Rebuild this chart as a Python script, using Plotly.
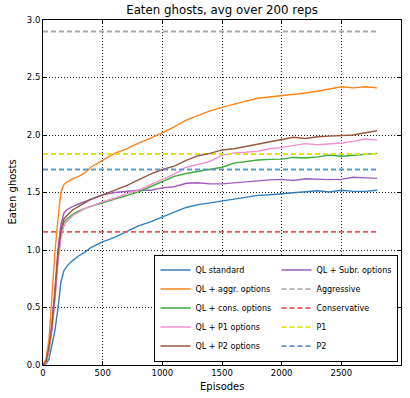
import plotly.graph_objects as go

episodes = [0, 25, 50, 75, 100, 125, 150, 175, 200, 250, 300, 350, 400, 500, 600, 700, 800, 900,
            1000, 1100, 1200, 1300, 1400, 1500, 1600, 1700, 1800, 1900, 2000, 2100, 2200, 2300,
            2400, 2500, 2600, 2700, 2800]

ql_standard = [0, 0.01, 0.05, 0.17, 0.30, 0.49, 0.72, 0.82, 0.86, 0.91, 0.95, 0.98, 1.02, 1.07, 1.11,
               1.16, 1.21, 1.245, 1.29, 1.33, 1.37, 1.395, 1.41, 1.426, 1.445, 1.46, 1.475, 1.48,
               1.49, 1.497, 1.505, 1.515, 1.505, 1.52, 1.51, 1.51, 1.52]
ql_aggr = [0, 0.05, 0.22, 0.65, 0.98, 1.27, 1.50, 1.57, 1.59, 1.62, 1.64, 1.67, 1.72, 1.78, 1.84,
           1.88, 1.93, 1.97, 2.02, 2.07, 2.13, 2.17, 2.21, 2.24, 2.27, 2.295, 2.32, 2.33, 2.34,
           2.35, 2.365, 2.38, 2.40, 2.42, 2.41, 2.42, 2.41]
ql_cons = [0, 0.02, 0.13, 0.32, 0.60, 0.92, 1.13, 1.24, 1.27, 1.31, 1.34, 1.36, 1.38, 1.41, 1.44,
           1.47, 1.505, 1.55, 1.595, 1.64, 1.665, 1.685, 1.70, 1.72, 1.755, 1.77, 1.783, 1.788,
           1.79, 1.805, 1.80, 1.81, 1.825, 1.815, 1.825, 1.83, 1.84]
ql_p1 = [0, 0.02, 0.12, 0.30, 0.56, 0.88, 1.10, 1.21, 1.25, 1.30, 1.33, 1.36, 1.38, 1.42, 1.45,
         1.49, 1.52, 1.57, 1.615, 1.66, 1.72, 1.745, 1.77, 1.825, 1.845, 1.85, 1.86, 1.88, 1.89,
         1.91, 1.925, 1.915, 1.92, 1.93, 1.945, 1.965, 1.955]
ql_p2 = [0, 0.03, 0.15, 0.34, 0.62, 0.95, 1.17, 1.27, 1.30, 1.35, 1.38, 1.41, 1.44, 1.48, 1.52,
         1.56, 1.61, 1.66, 1.70, 1.73, 1.78, 1.82, 1.84, 1.87, 1.88, 1.90, 1.925, 1.945, 1.96,
         1.98, 1.97, 1.985, 1.99, 1.995, 2.0, 2.02, 2.037]
ql_subr = [0, 0.03, 0.16, 0.37, 0.66, 1.0, 1.22, 1.32, 1.35, 1.38, 1.40, 1.42, 1.44, 1.48, 1.50,
           1.51, 1.52, 1.52, 1.54, 1.55, 1.58, 1.585, 1.575, 1.575, 1.585, 1.59, 1.60, 1.61,
           1.614, 1.605, 1.62, 1.615, 1.612, 1.614, 1.632, 1.627, 1.623]

ref_x = [0, 2800]
aggressive = 2.9
conservative = 1.157
p1 = 1.835
p2 = 1.70

x_ticks = [0, 500, 1000, 1500, 2000, 2500, 3000]
y_ticks = [0.0, 0.5, 1.0, 1.5, 2.0, 2.5, 3.0]

curves = [
    ("QL standard", ql_standard, "#2f7fc1"),
    ("QL + aggr. options", ql_aggr, "#ff8317"),
    ("QL + cons. options", ql_cons, "#3cab3c"),
    ("QL + P1 options", ql_p1, "#f28fd0"),
    ("QL + P2 options", ql_p2, "#98573f"),
    ("QL + Subr. options", ql_subr, "#a05cbf"),
]
refs = [
    ("Aggressive", aggressive, "#ababab"),
    ("Conservative", conservative, "#e8585a"),
    ("P1", p1, "#e2e21c"),
    ("P2", p2, "#5f97cc"),
]

# legend order (two columns, filled row by row)
col1 = curves[:5]
col2 = [curves[5]] + refs

fig = go.Figure()
rank = 1
for i in range(5):
    name, ys, c = col1[i]
    fig.add_trace(go.Scatter(x=episodes, y=ys, mode="lines", name=name,
                             line=dict(color=c, width=1.4), legendrank=rank))
    rank += 1
    item = col2[i]
    if i == 0:
        name, ys, c = item
        fig.add_trace(go.Scatter(x=episodes, y=ys, mode="lines", name=name,
                                 line=dict(color=c, width=1.4), legendrank=rank))
    else:
        name, v, c = item
        fig.add_trace(go.Scatter(x=ref_x, y=[v, v], mode="lines", name=name,
                                 line=dict(color=c, width=1.8, dash="5px,3px"), legendrank=rank))
    rank += 1

axis_common = dict(
    showline=True, linecolor="black", linewidth=1, mirror="allticks",
    ticks="inside", ticklen=4, tickcolor="black", tickwidth=1,
    showgrid=True, gridcolor="#222222", griddash="1px,2px", gridwidth=1,
    zeroline=False, tickfont=dict(family="DejaVu Sans", size=8.5, color="black"),
    automargin=False,
)

fig.update_xaxes(range=[0, 3000], tickvals=x_ticks, **axis_common)
fig.update_yaxes(range=[0, 3.0], tickvals=y_ticks, tickformat=".1f", **axis_common)

fig.update_layout(
    width=410, height=398,
    margin=dict(l=43, r=9, t=20, b=33),
    paper_bgcolor="white", plot_bgcolor="white",
    font=dict(family="DejaVu Sans", color="black"),
    title=dict(text="Eaten ghosts, avg over 200 reps", x=0.5, xref="paper",
               y=1 - 10 / 398, yref="container", yanchor="middle", xanchor="center",
               font=dict(size=11.8, family="DejaVu Sans", color="black")),
    legend=dict(orientation="h", x=0.993, xanchor="right", y=0.01, yanchor="bottom",
                bgcolor="white", bordercolor="black", borderwidth=1,
                font=dict(size=8, family="DejaVu Sans", color="black"),
                entrywidth=76, entrywidthmode="pixels", traceorder="normal",
                tracegroupgap=0),
    annotations=[
        dict(text="Episodes", xref="paper", yref="paper", x=0.5, y=0, yshift=-21,
             xanchor="center", yanchor="middle", showarrow=False,
             font=dict(size=10, family="DejaVu Sans", color="black")),
        dict(text="Eaten ghosts", xref="paper", yref="paper", x=0, y=0.5, xshift=-31,
             xanchor="center", yanchor="middle", showarrow=False, textangle=-90,
             font=dict(size=10, family="DejaVu Sans", color="black")),
    ],
)

fig.write_html("out.html", config={"displayModeBar": False},
               post_script="document.body.style.margin='0px';document.body.style.overflow='hidden';")
